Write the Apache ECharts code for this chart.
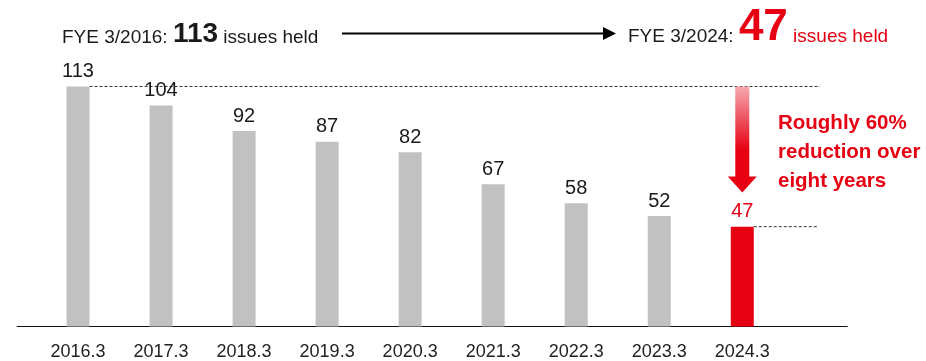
<!DOCTYPE html>
<html>
<head>
<meta charset="utf-8">
<script src="https://cdn.jsdelivr.net/npm/echarts@6/dist/echarts.min.js"></script>
<style>
html, body { margin: 0; padding: 0; background: #fff; }
#main { width: 926px; height: 361px; }
</style>
</head>
<body>
<div id="main"></div>
<script>
// 保有銘柄数の推移
var years = ['2016.3', '2017.3', '2018.3', '2019.3', '2020.3', '2021.3', '2022.3', '2023.3', '2024.3'];
var issues = [113, 104, 92, 87, 82, 67, 58, 52, 47];
var headLeft = ['FYE 3/2016: ', '113', ' issues held'];
var headRight = ['FYE 3/2024: ', '47', ' issues held'];
var noteLines = ['Roughly 60%', 'reduction over', 'eight years'];

var RED = '#e60012',
	GRAY = '#c0c1c0',
	INK = '#1a1a1a',
	FONT = '"Liberation Sans", Arial, Helvetica, sans-serif';

var last = issues.length - 1;
var barData = [];
for (var i = 0; i < issues.length; i++) {
	var isLast = i === last;
	barData.push({
		value: issues[i],
		itemStyle: { color: isLast ? RED : GRAY },
		label: { color: isLast ? RED : INK }
	});
}

var chartObj = echarts.init(document.getElementById('main'));
var option = {
	animation: false,
	grid: { left: 36.5, right: 142.2, top: 71.6, bottom: 33.3 },
	xAxis: {
		type: 'category',
		data: years,
		axisLine: { show: false },
		axisTick: { show: false },
		axisLabel: { fontSize: 18, color: '#222', margin: 16.5, fontFamily: FONT }
	},
	yAxis: { type: 'value', min: 0, max: 120, show: false },
	series: [{
		type: 'bar',
		data: barData,
		barWidth: 23,
		label: { show: true, position: 'top', distance: 5, fontSize: 20, fontFamily: FONT }
	}]
};
chartObj.setOption(option);

// 注記類は軸の座標から配置
var half = 11.5;
var pFirst = chartObj.convertToPixel({ seriesIndex: 0 }, [0, issues[0]]);
var pTopLast = chartObj.convertToPixel({ seriesIndex: 0 }, [last, issues[0]]);
var pLast = chartObj.convertToPixel({ seriesIndex: 0 }, [last, issues[last]]);
var pBase = chartObj.convertToPixel({ seriesIndex: 0 }, [0, 0]);

var cx = pTopLast[0], y0 = pTopLast[1];
var dash = { stroke: '#333', lineWidth: 1, lineDash: [3, 2] };

chartObj.setOption({
	graphic: [
		{ type: 'line', shape: { x1: 16.7, y1: pBase[1], x2: 847.7, y2: pBase[1] }, style: { stroke: '#111', lineWidth: 1.2 } },
		{ type: 'line', shape: { x1: pFirst[0] + half, y1: pFirst[1], x2: 820, y2: pFirst[1] }, style: dash },
		{ type: 'line', shape: { x1: pLast[0] + half, y1: pLast[1], x2: 818, y2: pLast[1] }, style: dash },
		{
			type: 'polygon',
			shape: { points: [
				[cx - 7, y0], [cx + 7, y0], [cx + 7, y0 + 90], [cx + 14.5, y0 + 90],
				[cx, y0 + 106], [cx - 14.5, y0 + 90], [cx - 7, y0 + 90]
			] },
			style: {
				fill: new echarts.graphic.LinearGradient(0, 0, 0, 1, [
					{ offset: 0, color: '#f5a9b0' },
					{ offset: 0.6, color: RED },
					{ offset: 1, color: RED }
				])
			}
		},
		{
			type: 'text', x: 778, y: 108.5,
			style: { text: noteLines.join('\n'), fill: RED, font: 'bold 20.5px ' + FONT, lineHeight: 29, verticalAlign: 'top' }
		},
		{
			type: 'text', x: 62, y: 48.5,
			style: {
				text: '{a|' + headLeft[0] + '}{b|' + headLeft[1] + '}{a|' + headLeft[2] + '}',
				verticalAlign: 'bottom',
				rich: {
					a: { fontSize: 19, lineHeight: 19, fontFamily: FONT, fill: INK, verticalAlign: 'bottom', padding: [0, 0, 1.3, 0] },
					b: { fontSize: 28, lineHeight: 28, fontFamily: FONT, fontWeight: 'bold', fill: INK, verticalAlign: 'bottom' }
				}
			}
		},
		{ type: 'line', shape: { x1: 342, y1: 33.5, x2: 606, y2: 33.5 }, style: { stroke: '#000', lineWidth: 2 } },
		{ type: 'polygon', shape: { points: [[603, 27], [616, 33.5], [603, 40]] }, style: { fill: '#000' } },
		{
			type: 'text', x: 628, y: 50,
			style: {
				text: '{a|' + headRight[0] + '}{c|' + headRight[1] + '}{r|' + headRight[2] + '}',
				verticalAlign: 'bottom',
				rich: {
					a: { fontSize: 19, lineHeight: 19, fontFamily: FONT, fill: INK, verticalAlign: 'bottom', padding: [0, 0, 3.5, 0] },
					c: { fontSize: 44, lineHeight: 44, fontFamily: FONT, fontWeight: 'bold', fill: RED, verticalAlign: 'bottom' },
					r: { fontSize: 19, lineHeight: 19, fontFamily: FONT, fill: RED, verticalAlign: 'bottom', padding: [0, 0, 3.5, 0] }
				}
			}
		}
	]
});
</script>
</body>
</html>
